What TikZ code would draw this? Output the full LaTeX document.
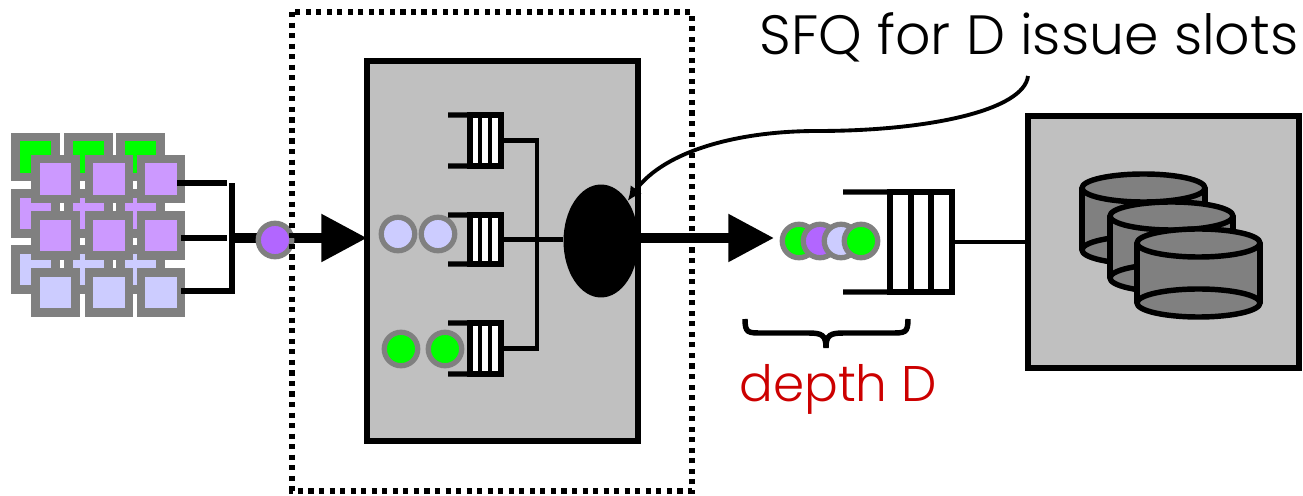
\documentclass[tikz,border=0pt]{standalone}
\usepackage{fontspec}
\setmainfont{Poppins}[UprightFont=* Light]
\usetikzlibrary{arrows.meta, shapes.geometric}
\definecolor{boxgray}{HTML}{C0C0C0}
\definecolor{midgray}{HTML}{808080}
\definecolor{lilac}{HTML}{CC99FF}
\definecolor{violet}{HTML}{B266FF}
\definecolor{pale}{HTML}{CCCCFF}
\definecolor{lime}{HTML}{00FF00}
\definecolor{deepred}{HTML}{CC0000}
\newcommand{\disk}[3]{% left edge, top, bottom
	\fill[midgray] (#1,#2) rectangle (#1+123,#3);
	\draw[heavy, fill=midgray] (#1+61.5,#3) ellipse [x radius=61.5, y radius=14];
	\draw[heavy] (#1,#2) -- (#1,#3) (#1+123,#2) -- (#1+123,#3);
	\draw[heavy, fill=midgray] (#1+61.5,#2) ellipse [x radius=61.5, y radius=14];
}
\tikzset{
	heavy/.style={line width=3.1pt},
	medium/.style={line width=2.7pt},
	thinner/.style={line width=2.5pt},
	fat/.style={line width=5.4pt, -{Triangle[length=26pt, width=26pt]}},
	cell/.style={draw=midgray, line width=4.7pt, minimum size=8mm, inner sep=0pt, outer sep=0pt, fill=#1},
	packet/.style={circle, draw=midgray, line width=3pt, minimum size=6.7mm, inner sep=0pt, fill=#1},
	panel/.style={draw, heavy, fill=boxgray, inner sep=0pt, outer sep=0pt},
}
\begin{document}
\begin{tikzpicture}[x=.02cm, y=-.02cm]
	\useasboundingbox (0,0) rectangle (1303,496);
	% Kacheln hinten, dann vorne
	\foreach \y/\c [count=\r] in {157/lime, 213.5/lilac, 269.5/pale}
		\foreach \x [count=\k] in {35.5, 88.5, 140.5}
			\node[cell=\c] (b\r\k) at (\x,\y) {};
	\foreach \y/\c [count=\r] in {179/lilac, 235.5/lilac, 292.5/pale}
		\foreach \x [count=\k] in {55.5, 109, 161}
			\node[cell=\c] (f\r\k) at (\x,\y) {};
	% Zusammenfuehrung
	\coordinate (join) at (232,238);
	\coordinate (forka) at (232,183);
	\coordinate (forkc) at (232,291);
	\draw[heavy] (f13.center |- forka) ++(16,0) -- (227,183);
	\draw[heavy] (f23.east |- join) -- (227,238);
	\draw[heavy] (f33.center |- forkc) ++(20,0) -- (forkc) -- (forka);
	% Kasten mit Warteschlangen
	\node[panel, minimum width=271*.2mm, minimum height=380*.2mm] (core) at (502.5,251) {};
	\draw[fat] (join) -- (core.west |- join);
	\node[packet=violet] (pkt) at (275,240) {};
	\node[packet=pale] (pa) at (398,234) {};
	\node[packet=pale] (pb) at (438,234) {};
	\node[packet=lime] (pc) at (401,349) {};
	\node[packet=lime] (pd) at (445,349) {};
	\node[ellipse, fill=black, minimum width=75*.2mm, minimum height=113*.2mm, inner sep=0pt] (sched) at (601,241) {};
	\foreach \n/\t/\b in {qa/115/166, qb/215/264, qc/323/374} {
		\node[draw, heavy, fill=white, minimum width=31*.2mm, minimum height={(\b-\t)*.2mm}, inner sep=0pt, outer sep=0pt] (\n) at (485.5,{(\t+\b)/2}) {};
		\foreach \x in {480,490}
			\draw[medium] (\x,\t) -- (\x,\b);
		\draw[heavy] (448,\t) -- (\n.north west);
		\draw[heavy] (448,\b) -- (\n.south west);
	}
	\draw[thinner] (qa.east) -- (537,140.5) -- (537,348.5) -- (qc.east);
	\draw[thinner] (qb.east) -- (sched.west |- qb.east);
	\draw[line width=3pt, dash pattern=on 2.9pt off 3.1pt] (292,12) rectangle (692,491);
	% Ausgang
	\coordinate (tip) at (774,238);
	\draw[fat] (core.east |- tip) -- (tip);
	\foreach \x/\c [count=\k] in {799/lime, 820/violet, 841/pale, 861/lime}
		\node[packet=\c] (w\k) at (\x,241) {};
	\node[draw, heavy, fill=white, minimum width=62*.2mm, minimum height=100*.2mm, inner sep=0pt, outer sep=0pt] (disp) at (921,242) {};
	\foreach \x in {911,931}
		\draw[heavy] (\x,192) -- (\x,292);
	\draw[heavy] (843,192) -- (disp.north west);
	\draw[heavy] (843,292) -- (disp.south west);
	% Platten
	\node[panel, minimum width=271*.2mm, minimum height=252*.2mm] (store) at (1163.5,242) {};
	\draw[medium] (disp.east) -- (store.west);
	\disk{1082}{188}{250}
	\disk{1110}{216}{278}
	\disk{1137}{243}{303}
	% Beschriftung
	\draw[heavy] (745,319) .. controls (745,333) and (748,333) .. (762,333) -- (808,333) .. controls (822,333) and (826,335) .. (826,348) .. controls (826,335) and (830,333) .. (844,333) -- (891,333) .. controls (905,333) and (908,333) .. (908,319);
	\node[text=deepred, font=\fontsize{28.5}{29}\selectfont, inner sep=0pt] (depth) at (838,389) {depth D};
	\node[font=\fontsize{31.5}{32}\selectfont, inner sep=0pt] (sfq) at (1029,37) {SFQ for D issue slots};
	\coordinate (callout) at (1028,76);
	\draw[line width=2.2pt, -{Latex[length=8pt, width=8pt]}] (callout) .. controls (1024,110) and (930,131) .. (817,131) .. controls (740,131) and (665,150) .. (sched.north east);
\end{tikzpicture}
\end{document}
